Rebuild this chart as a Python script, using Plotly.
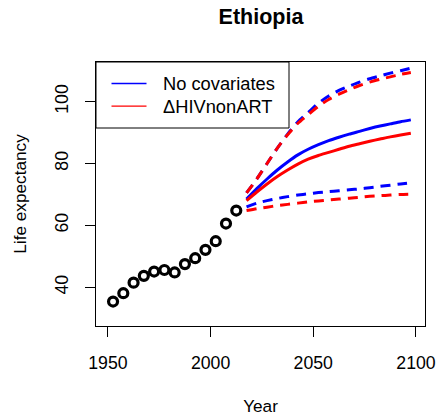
import plotly.graph_objects as go

# observed life expectancy, 5-year periods
obs_years = [1952.5, 1957.5, 1962.5, 1967.5, 1972.5, 1977.5, 1982.5,
             1987.5, 1992.5, 1997.5, 2002.5, 2007.5, 2012.5]
obs_e0 = [35.4, 38.1, 41.5, 43.7, 45.1, 45.6, 44.8,
          47.5, 49.4, 52.1, 54.9, 60.6, 64.8]

# projections
proj_years = [2017.5, 2022.5, 2027.5, 2032.5, 2037.5, 2042.5, 2047.5, 2052.5, 2057.5,
              2062.5, 2067.5, 2072.5, 2077.5, 2082.5, 2087.5, 2092.5, 2097.5]

nocov_median = [68.5, 71.9, 75.0, 77.9, 80.5, 82.8, 84.6, 86.1, 87.4,
                88.5, 89.5, 90.4, 91.3, 92.1, 92.8, 93.5, 94.1]
nocov_upper = [70.5, 75.0, 80.0, 85.0, 89.5, 93.5, 96.5, 99.5, 101.8,
               103.6, 105.0, 106.3, 107.4, 108.3, 109.2, 110.0, 110.8]
nocov_lower = [66.0, 67.2, 68.0, 68.7, 69.3, 69.8, 70.2, 70.6, 70.9,
               71.2, 71.5, 71.8, 72.2, 72.6, 73.0, 73.4, 73.8]

hiv_median = [68.0, 70.8, 73.4, 75.8, 77.9, 79.8, 81.4, 82.6, 83.6,
              84.6, 85.6, 86.4, 87.2, 87.9, 88.6, 89.2, 89.8]
hiv_upper = [70.5, 75.0, 80.0, 85.0, 89.3, 93.0, 95.8, 98.5, 100.7,
             102.4, 103.9, 105.2, 106.3, 107.2, 108.0, 108.8, 109.4]
hiv_lower = [64.8, 65.4, 65.9, 66.4, 66.8, 67.2, 67.6, 67.9, 68.2,
             68.5, 68.8, 69.1, 69.4, 69.6, 69.8, 70.0, 70.1]

series = [
    ("No covariates", "#0000FF", nocov_median, nocov_upper, nocov_lower),
    ("\u0394HIVnonART", "#FF0000", hiv_median, hiv_upper, hiv_lower),
]

FONT = "Liberation Sans, Arial, sans-serif"
DASH = "10px,7px"

W, H = 439, 419
L, R, T, B = 96, 14, 62, 93
PW, PH = W - L - R, H - T - B


def px_x(p):  # pixel -> paper x
    return (p - L) / PW


def px_y(p):  # pixel -> paper y
    return (H - B - p) / PH


fig = go.Figure()

for name, color, med, up, lo in series:
    fig.add_trace(go.Scatter(x=proj_years, y=med, mode="lines", showlegend=False,
                             line=dict(color=color, width=3, shape="spline", smoothing=0.6)))
    for band in (up, lo):
        fig.add_trace(go.Scatter(x=proj_years, y=band, mode="lines", showlegend=False,
                                 line=dict(color=color, width=3, dash=DASH,
                                           shape="spline", smoothing=0.6)))

fig.add_trace(go.Scatter(x=obs_years, y=obs_e0, mode="markers", showlegend=False,
                         marker=dict(symbol="circle-open", size=9, color="black",
                                     line=dict(color="black", width=3.2))))

# R-style legend box drawn by hand
shapes = [dict(type="rect", xref="paper", yref="paper",
               x0=px_x(96), x1=px_x(289), y0=px_y(128), y1=px_y(62),
               line=dict(color="black", width=1), fillcolor="white", layer="above")]
annotations = []
for i, (name, color, *_) in enumerate(series):
    yy = 83.5 + 22.7 * i
    shapes.append(dict(type="line", xref="paper", yref="paper",
                       x0=px_x(111.5), x1=px_x(146.5), y0=px_y(yy), y1=px_y(yy),
                       line=dict(color=color, width=1.3), layer="above"))
    annotations.append(dict(text=name, xref="paper", yref="paper", x=px_x(161),
                            y=px_y(yy), xanchor="left", yanchor="middle", showarrow=False,
                            font=dict(size=18.3)))

fig.update_layout(
    width=W, height=H,
    margin=dict(l=L, r=R, t=T, b=B),
    paper_bgcolor="white", plot_bgcolor="white",
    font=dict(family=FONT, size=17.7, color="black"),
    title=dict(text="<b>Ethiopia</b>", x=261 / W, xanchor="center",
               y=1 - 16.5 / H, yanchor="middle", font=dict(size=21.5)),
    showlegend=False,
    shapes=shapes,
    annotations=annotations,
    xaxis=dict(range=[1944.2, 2104.4], tickvals=[1950, 2000, 2050, 2100],
               showgrid=False, zeroline=False, showline=True, linecolor="black",
               linewidth=1, mirror=True, ticks="outside", ticklen=10, tickcolor="black",
               ticklabelstandoff=11, automargin=False,
               title=dict(text="Year", standoff=27, font=dict(size=17.2))),
    yaxis=dict(range=[27.5, 112.8], tickvals=[40, 60, 80, 100], tickangle=-90,
               showgrid=False, zeroline=False, showline=True, linecolor="black",
               linewidth=1, mirror=True, ticks="outside", ticklen=10, tickcolor="black",
               ticklabelstandoff=10, automargin=False,
               title=dict(text="Life expectancy", standoff=20, font=dict(size=17.2))),
)

fig.write_html("out.html", config={"displayModeBar": False},
               post_script="document.body.style.margin = '0px';")
